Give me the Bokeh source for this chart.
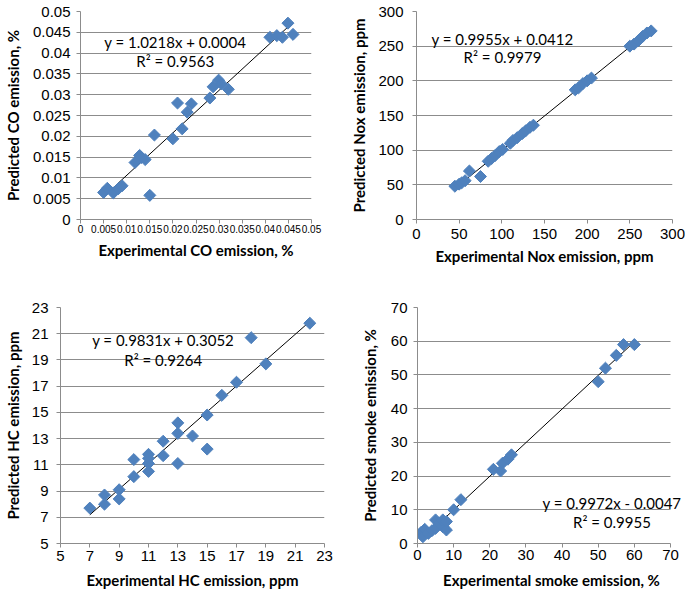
import numpy as np
from bokeh.plotting import figure
from bokeh.models import Range1d, Label
from bokeh.layouts import row, column
from bokeh.embed import file_html
from bokeh.resources import INLINE

# ---------------- data ----------------
co_exp = [0.0050, 0.0058, 0.0071, 0.0082, 0.0090, 0.0150, 0.0118, 0.0128, 0.0132, 0.0140,
          0.0160, 0.0200, 0.0220, 0.0231, 0.0210, 0.0240, 0.0280, 0.0287, 0.0299, 0.0305,
          0.0320, 0.0410, 0.0425, 0.0437, 0.0449, 0.0460]
co_pred = [0.0065, 0.0075, 0.0064, 0.0074, 0.0081, 0.0058, 0.0137, 0.0154, 0.0149, 0.0144,
           0.0203, 0.0194, 0.0218, 0.0258, 0.0280, 0.0278, 0.0292, 0.0319, 0.0335, 0.0326,
           0.0313, 0.0438, 0.0442, 0.0438, 0.0472, 0.0445]
co_fit = (1.0218, 0.0004)
co_eq = ["y = 1.0218x + 0.0004", "R\u00b2 = 0.9563"]
co_ticks = [0, 0.005, 0.01, 0.015, 0.02, 0.025, 0.03, 0.035, 0.04, 0.045, 0.05]
co_tick_labels = ["0", "0.005", "0.01", "0.015", "0.02", "0.025", "0.03", "0.035", "0.04", "0.045", "0.05"]

nox_exp = [45, 50, 53, 57, 62, 75, 84, 88, 92, 97, 101, 110, 113, 118, 124, 128, 133, 137,
           186, 190, 195, 200, 205, 250, 255, 260, 265, 270, 275]
nox_pred = [48, 51, 53, 56, 70, 62, 84, 88, 92, 98, 101, 110, 114, 118, 124, 128, 133, 136,
            187, 190, 196, 200, 204, 250, 253, 258, 264, 269, 272]
nox_fit = (0.9955, 0.0412)
nox_eq = ["y = 0.9955x + 0.0412", "R\u00b2 = 0.9979"]
nox_ticks = [0, 50, 100, 150, 200, 250, 300]
nox_tick_labels = ["0", "50", "100", "150", "200", "250", "300"]

hc_exp = [7, 8, 8, 9, 9, 10, 10, 11, 11, 11, 11, 12, 12, 13, 13, 13, 14, 15, 15, 16, 17, 18, 19, 22]
hc_pred = [7.7, 8.7, 8.0, 9.1, 8.4, 11.4, 10.1, 11.8, 11.5, 11.1, 10.5, 12.8, 11.7, 14.2, 13.4,
           11.1, 13.2, 14.8, 12.2, 16.3, 17.3, 20.7, 18.7, 21.8]
hc_fit = (0.9831, 0.3052)
hc_eq = ["y = 0.9831x + 0.3052", "R\u00b2 = 0.9264"]
hc_ticks = [5, 7, 9, 11, 13, 15, 17, 19, 21, 23]
hc_tick_labels = ["5", "7", "9", "11", "13", "15", "17", "19", "21", "23"]

sm_exp = [1, 1.5, 2, 3, 4, 5, 5, 6, 7, 7, 8, 8, 10, 12, 21, 23, 23.5, 25, 26, 50, 52, 55, 57, 60]
sm_pred = [3.3, 2.0, 4.2, 3.0, 3.8, 7.0, 4.5, 6.0, 5.0, 7.0, 4.0, 6.5, 10.0, 13.0, 22.0, 21.5,
           23.8, 25.0, 26.3, 48.0, 52.0, 55.8, 59.0, 59.0]
sm_fit = (0.9972, -0.0047)
sm_eq = ["y = 0.9972x - 0.0047", "R\u00b2 = 0.9955"]
sm_ticks = [0, 10, 20, 30, 40, 50, 60, 70]
sm_tick_labels = ["0", "10", "20", "30", "40", "50", "60", "70"]

BLUE = "#4F81BD"
GRID = "#8C8C8C"
TICK_FONT = "Liberation Sans"
TITLE_FONT = "Lato"


def panel(xs, ys, fit, eq, ticks, labels, xtitle, ytitle, width, height, borders,
          eq_pos, xfs="15px", xstand=(4, 5), ystand=(6, 4), extra_right=0):
    mbl, mbr, mbt, mbb = borders
    # plot area extended to the right by extra_right px (room for the equation text)
    fw = width - mbl - mbr
    span = ticks[-1] - ticks[0]
    x_end = ticks[-1] + span * extra_right / (fw - extra_right) if extra_right else ticks[-1]
    p = figure(width=width, height=height, output_backend="svg", toolbar_location=None,
               x_range=Range1d(ticks[0], x_end), y_range=Range1d(ticks[0], ticks[-1]),
               min_border_left=mbl, min_border_right=mbr, min_border_top=mbt,
               min_border_bottom=mbb)
    p.outline_line_color = None
    p.background_fill_color = "white"
    p.border_fill_color = "white"
    p.xgrid.visible = False
    p.ygrid.grid_line_color = GRID
    p.ygrid.grid_line_width = 1
    p.ygrid.cross_bounds = (ticks[0], ticks[-1])
    for ax in (p.xaxis, p.yaxis):
        ax.ticker = ticks
        ax.bounds = (ticks[0], ticks[-1])
        ax.major_label_overrides = dict(zip(ticks, labels))
        ax.minor_tick_line_color = None
        ax.major_tick_in = 0
        ax.major_tick_out = 4
        ax.axis_line_color = GRID
        ax.major_tick_line_color = GRID
        ax.major_label_text_font = TICK_FONT
        ax.major_label_text_font_size = "15px"
        ax.major_label_text_color = "black"
        ax.axis_label_text_font = TITLE_FONT
        ax.axis_label_text_font_style = "bold"
        ax.axis_label_text_font_size = "15px"
        ax.axis_label_text_color = "black"
    p.xaxis.major_label_text_font_size = xfs
    p.xaxis.axis_label = xtitle
    p.yaxis.axis_label = ytitle
    p.xaxis.major_label_standoff = xstand[0]
    p.xaxis.axis_label_standoff = xstand[1]
    p.yaxis.major_label_standoff = ystand[0]
    p.yaxis.axis_label_standoff = ystand[1]

    x0, x1 = min(xs), max(xs)
    p.line([x0, x1], [fit[0] * x0 + fit[1], fit[0] * x1 + fit[1]],
           line_color="black", line_width=1)
    p.scatter(xs, ys, marker="square", angle=np.pi / 4, size=8.5,
              fill_color=BLUE, line_color=BLUE)
    ex, ey1, ey2 = eq_pos
    for txt, yy in zip(eq, (ey1, ey2)):
        p.add_layout(Label(x=ex, y=yy, text=txt, text_align="center",
                           text_baseline="middle", text_font=TITLE_FONT,
                           text_font_size="15px", text_color="black",
                           level="overlay"))
    return p


p1 = panel(co_exp, co_pred, co_fit, co_eq, co_ticks, co_tick_labels,
           "Experimental CO emission, %", "Predicted CO emission, %",
           340, 290, (77, 29, 11, 71), (0.0205, 0.04255, 0.03822),
           xfs="10px", xstand=(1, 5), ystand=(6, 8))
p2 = panel(nox_exp, nox_pred, nox_fit, nox_eq, nox_ticks, nox_tick_labels,
           "Experimental Nox emission, ppm", "Predicted Nox emission, ppm",
           345, 290, (76, 13, 8, 62), (100.8, 260.9, 234.5),
           xstand=(5, 5), ystand=(9, 7))
p3 = panel(hc_exp, hc_pred, hc_fit, hc_eq, hc_ticks, hc_tick_labels,
           "Experimental HC emission, ppm", "Predicted HC emission, ppm",
           340, 304, (54, 16, 15, 51), (12.0, 20.5, 18.99),
           xstand=(3, 7), ystand=(8, 7))
p4 = panel(sm_exp, sm_pred, sm_fit, sm_eq, sm_ticks, sm_tick_labels,
           "Experimental smoke emission, %", "Predicted smoke emission, %",
           345, 304, (77, 0, 17, 51), (53.8, 12.0, 6.32),
           xstand=(2, 8), ystand=(6, 9), extra_right=15)

layout = column(row(p1, p2), row(p3, p4))
open("out.html", "w").write(file_html(layout, INLINE))
